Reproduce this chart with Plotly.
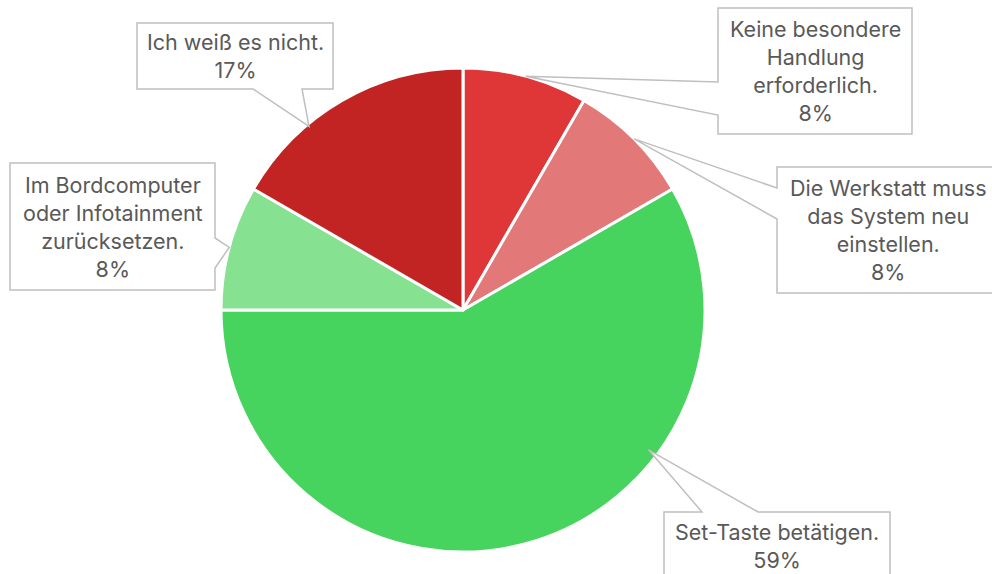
import math
import plotly.graph_objects as go

# ---- data ----
categories = ["Keine besondere<br>Handlung<br>erforderlich.",
              "Die Werkstatt muss<br>das System neu<br>einstellen.",
              "Set-Taste betätigen.",
              "Im Bordcomputer<br>oder Infotainment<br>zurücksetzen.",
              "Ich weiß es nicht."]
values = [1, 1, 7, 1, 2]
pct_labels = ["8%", "8%", "59%", "8%", "17%"]
colors = ["#DF3637", "#E27878", "#46D35E", "#86E291", "#C22424"]

W, H = 992, 574
CX, CY, R = 463, 310, 242

fig = go.Figure(go.Pie(
    values=values, labels=[c.replace("<br>", " ") for c in categories],
    sort=False, direction="clockwise", rotation=0,
    marker=dict(colors=colors, line=dict(color="white", width=3)),
    textinfo="none", hoverinfo="label+percent", showlegend=False,
    domain=dict(x=[(CX - R) / W, (CX + R) / W], y=[1 - (CY + R) / H, 1 - (CY - R) / H]),
))

# callout layout: box (x0,y0,x1,y1) px, side, base points along side, tip angle offset deg, radius factor
callouts = [
    dict(box=(718, 8, 912, 134), side="left", base=(82, 115), off=0, k=1.0),
    dict(box=(777, 167, 1000, 293), side="left", base=(188, 219), off=0, k=1.0),
    dict(box=(664, 512, 890, 590), side="top", base=(702, 758), off=-38, k=0.96, tc=(777, 546)),
    dict(box=(10, 163, 215, 290), side="right", base=(238, 268), off=0, k=1.0),
    dict(box=(137, 23, 333, 89), side="bottom", base=(253, 302), off=-10, k=0.99),
]

def px(x, y):
    return x / W, 1 - y / H

total = sum(values)
cum = 0
shapes, annotations = [], []
for i, v in enumerate(values):
    mid = (cum + v / 2) / total * 360
    cum += v
    c = callouts[i]
    ang = math.radians(mid + c["off"])
    tx = CX + R * c["k"] * math.sin(ang)
    ty = CY - R * c["k"] * math.cos(ang)
    x0, y0, x1, y1 = c["box"]
    b0, b1 = c["base"]
    if c["side"] == "left":
        pts = [(x0, y0), (x1, y0), (x1, y1), (x0, y1), (x0, b1), (tx, ty), (x0, b0)]
    elif c["side"] == "right":
        pts = [(x0, y0), (x1, y0), (x1, b0), (tx, ty), (x1, b1), (x1, y1), (x0, y1)]
    elif c["side"] == "top":
        pts = [(x0, y0), (b0, y0), (tx, ty), (b1, y0), (x1, y0), (x1, y1), (x0, y1)]
    else:
        pts = [(x0, y0), (x1, y0), (x1, y1), (b1, y1), (tx, ty), (b0, y1), (x0, y1)]
    path = "M " + " L ".join("%.5f,%.5f" % px(*p) for p in pts) + " Z"
    shapes.append(dict(type="path", xref="paper", yref="paper", path=path,
                       fillcolor="white", line=dict(color="#BFBFBF", width=1.5), layer="above"))
    cxp, cyp = c.get("tc", ((x0 + x1) / 2, (y0 + y1) / 2))
    ax, ay = px(cxp, cyp)
    annotations.append(dict(x=ax, y=ay, xref="paper", yref="paper", showarrow=False,
                            text=categories[i] + "<br>" + pct_labels[i],
                            font=dict(family="Inter", size=21.5, color="#595959"),
                            xanchor="center", yanchor="middle", align="center"))

fig.update_layout(width=W, height=H, margin=dict(l=0, r=0, t=0, b=0),
                  paper_bgcolor="white", plot_bgcolor="white",
                  shapes=shapes, annotations=annotations)
fig.write_html("out.html")
